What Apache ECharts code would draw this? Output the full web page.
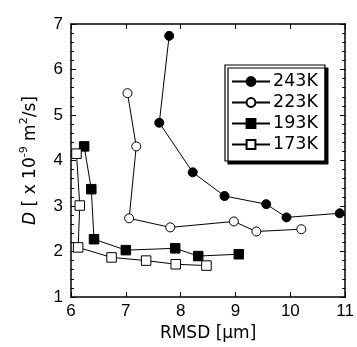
<!DOCTYPE html>
<html>
<head>
<meta charset="utf-8">
<script src="https://cdn.jsdelivr.net/npm/echarts@6/dist/echarts.min.js"></script>
<style>
html,body{margin:0;padding:0;background:#fff;}
#c{width:357px;height:347px;}
</style>
</head>
<body>
<div id="c"></div>
<script>
// Data
const seriesNames = ['243K', '223K', '193K', '173K'];
const rmsd243 = [7.79, 7.61, 8.22, 8.80, 9.56, 9.93, 10.90];
const d243    = [6.74, 4.83, 3.74, 3.22, 3.04, 2.75, 2.84];
const rmsd223 = [7.03, 7.19, 7.06, 7.81, 8.97, 9.38, 10.20];
const d223    = [5.48, 4.31, 2.73, 2.53, 2.66, 2.44, 2.49];
const rmsd193 = [6.24, 6.37, 6.42, 7.00, 7.90, 8.32, 9.06];
const d193    = [4.31, 3.37, 2.27, 2.03, 2.07, 1.90, 1.94];
const rmsd173 = [6.10, 6.16, 6.13, 6.74, 7.37, 7.91, 8.47];
const d173    = [4.15, 3.01, 2.09, 1.87, 1.80, 1.72, 1.69];
const xTicks = [6, 7, 8, 9, 10, 11];
const yTicks = [1, 2, 3, 4, 5, 6, 7];

function pairs(xs, ys) { return xs.map((x, i) => [x, ys[i]]); }

const TICKFONT = '"Liberation Sans", Arial, sans-serif';
const TITLEFONT = '"DejaVu Sans", sans-serif';

const axisCommon = {
  axisLine: { show: true, onZero: false, lineStyle: { color: '#000', width: 1.5 } },
  axisTick: { show: true, inside: true, length: 5, lineStyle: { color: '#000', width: 1 } },
  splitLine: { show: false }
};

const styles = [
  { symbol: 'circle', fill: '#000', size: 9 },
  { symbol: 'circle', fill: '#fff', size: 9 },
  { symbol: 'rect', fill: '#000', size: 9.5 },
  { symbol: 'rect', fill: '#fff', size: 9.5 }
];
const dataSets = [pairs(rmsd243, d243), pairs(rmsd223, d223), pairs(rmsd193, d193), pairs(rmsd173, d173)];

const chart = echarts.init(document.getElementById('c'), null, { renderer: 'canvas' });
chart.setOption({
  animation: false,
  backgroundColor: '#fff',
  grid: { left: 71, top: 24, right: 10, bottom: 49, containLabel: false },
  xAxis: [
    Object.assign({}, axisCommon, {
      type: 'value', position: 'bottom', min: xTicks[0], max: xTicks[xTicks.length - 1], interval: 1,
      axisLabel: { show: true, margin: 6, color: '#000', fontSize: 17, fontFamily: TICKFONT },
      name: 'RMSD [μm]', nameLocation: 'middle', nameGap: 28,
      nameTextStyle: { color: '#000', fontSize: 17, fontFamily: TITLEFONT }
    }),
    Object.assign({}, axisCommon, {
      type: 'value', position: 'top', min: xTicks[0], max: xTicks[xTicks.length - 1], interval: 1,
      axisLabel: { show: false }
    })
  ],
  yAxis: [
    Object.assign({}, axisCommon, {
      type: 'value', position: 'left', min: yTicks[0], max: yTicks[yTicks.length - 1], interval: 1,
      minorTick: { show: true, splitNumber: 5, length: 3, lineStyle: { color: '#000', width: 1 } },
      axisLabel: { show: true, margin: 8, color: '#000', fontSize: 17, fontFamily: TICKFONT },
      name: '{it|D}{n| [ x 10}{sup|-9}{n| m}{sup|2}{n|/s]}', nameLocation: 'middle', nameGap: 27, nameRotate: 90,
      nameTextStyle: {
        color: '#000', fontSize: 17, fontFamily: TITLEFONT, lineHeight: 24,
        rich: {
          it: { fontStyle: 'italic', fontSize: 17, fontFamily: TITLEFONT, color: '#000', lineHeight: 24 },
          n: { fontSize: 17, fontFamily: TITLEFONT, color: '#000', lineHeight: 24 },
          sup: { fontSize: 11, fontFamily: TITLEFONT, color: '#000', verticalAlign: 'top', lineHeight: 12 }
        }
      }
    }),
    Object.assign({}, axisCommon, {
      type: 'value', position: 'right', min: yTicks[0], max: yTicks[yTicks.length - 1], interval: 1,
      minorTick: { show: true, splitNumber: 5, length: 3, lineStyle: { color: '#000', width: 1 } },
      axisLabel: { show: false }
    })
  ],
  legend: {
    show: true, orient: 'vertical', left: 225, top: 65,
    data: seriesNames,
    itemWidth: 38, itemHeight: 11, itemGap: 0,
    padding: [6, 7, 6, 6],
    backgroundColor: '#fff', borderColor: '#000', borderWidth: 1.2,
    shadowColor: '#000', shadowBlur: 0, shadowOffsetX: 3, shadowOffsetY: 3,
    textStyle: { color: '#000', fontSize: 17.5, fontFamily: TITLEFONT, lineHeight: 21, padding: [0, 0, 0, -2] }
  },
  series: seriesNames.map((n, i) => ({
    name: n, type: 'line', xAxisIndex: 0, yAxisIndex: 0,
    data: dataSets[i],
    symbol: styles[i].symbol, symbolSize: styles[i].size, showAllSymbol: true,
    clip: false,
    lineStyle: { color: '#000', width: 1 },
    itemStyle: { color: styles[i].fill, borderColor: '#000', borderWidth: 1, opacity: 1 },
    emphasis: { disabled: true }
  }))
});
</script>
</body>
</html>
